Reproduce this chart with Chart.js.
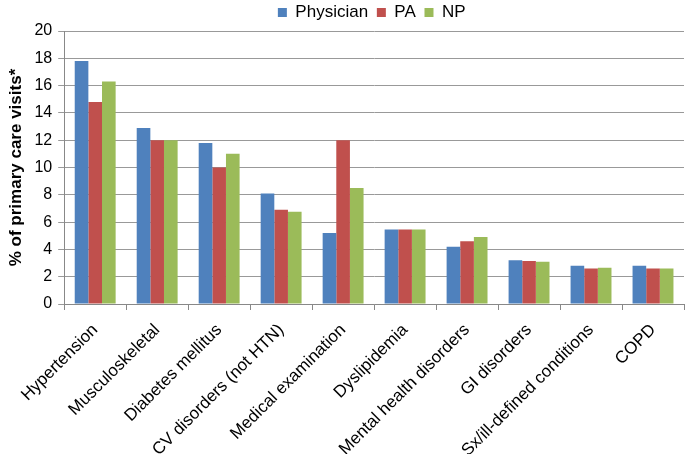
<!DOCTYPE html>
<html>
<head>
<meta charset="utf-8">
<script src="https://cdn.jsdelivr.net/npm/chart.js@4.4.1/dist/chart.umd.min.js"></script>
<style>
  html, body { margin: 0; padding: 0; background: #fff; }
  #wrap { width: 685px; height: 454px; position: relative; }
</style>
</head>
<body>
<div id="wrap"><canvas id="chart"></canvas></div>
<script>
const categories = [
  "Hypertension", "Musculoskeletal", "Diabetes mellitus", "CV disorders (not HTN)",
  "Medical examination", "Dyslipidemia", "Mental health disorders", "GI disorders",
  "Sx/ill-defined conditions", "COPD"
];
const physician = [17.8, 12.9, 11.8, 8.1, 5.2, 5.45, 4.2, 3.2, 2.8, 2.8];
const pa        = [14.8, 12.0, 10.0, 6.9, 12.0, 5.45, 4.6, 3.15, 2.6, 2.6];
const np        = [16.3, 12.0, 11.0, 6.75, 8.5, 5.45, 4.9, 3.1, 2.65, 2.6];
const yTicks = [0, 2, 4, 6, 8, 10, 12, 14, 16, 18, 20];

// ================= Chart =================
const chart = new Chart(document.getElementById("chart"), {
  type: "bar",
  data: {
    labels: categories,
    datasets: [
      { label: "Physician", data: physician, backgroundColor: "#4F81BD" },
      { label: "PA", data: pa, backgroundColor: "#C0504D" },
      { label: "NP", data: np, backgroundColor: "#9BBB59" }
    ]
  },
  options: {
    responsive: true,
    maintainAspectRatio: false,
    animation: false,
    layout: { padding: { top: 0, right: 1, left: 4, bottom: 0 } },
    datasets: { bar: { categoryPercentage: 0.66, barPercentage: 1.0 } },
    plugins: {
      legend: {
        position: "top",
        fullSize: false,
        labels: {
          boxWidth: 9, boxHeight: 9, padding: 4,
          color: "#000",
          font: { family: "Liberation Sans", size: 17 },
          // a little more room between the legend items
          generateLabels: c => Chart.defaults.plugins.legend.labels.generateLabels(c)
            .map(l => ({ ...l, text: l.text + " " }))
        }
      },
      tooltip: { enabled: false }
    },
    scales: {
      x: {
        // labels run off the bottom edge in the original, so fix the axis height
        afterFit: axis => { axis.height = 150; },
        grid: { drawOnChartArea: false, offset: true, tickLength: 6, color: "#888" },
        border: { color: "#888" },
        ticks: {
          minRotation: 45, maxRotation: 45, color: "#000", padding: 10,
          font: { family: "Liberation Sans", size: 17 }
        }
      },
      y: {
        min: 0, max: 20,
        afterBuildTicks: axis => { axis.ticks = yTicks.map(v => ({ value: v })); },
        grid: { color: "#999", tickLength: 6 },
        border: { color: "#888" },
        ticks: { color: "#000", padding: 6, font: { family: "Liberation Sans", size: 16 } },
        title: {
          display: true, text: "% of primary care visits*", color: "#000",
          font: { family: "Liberation Sans", size: 17, weight: "bold" }, padding: 2
        }
      }
    }
  }
});
</script>
</body>
</html>
